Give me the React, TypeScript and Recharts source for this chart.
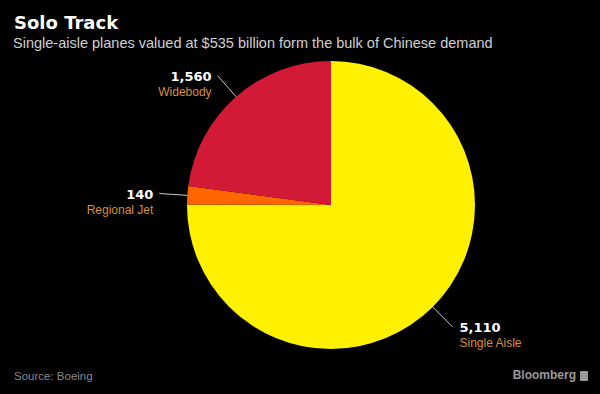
import React from "react";
import { PieChart, Pie, Cell } from "recharts";

const categories = ["Single Aisle", "Regional Jet", "Widebody"];
const values = [5110, 140, 1560];
const valueLabels = ["5,110", "140", "1,560"];
const colors = ["#fff100", "#ff6600", "#d21a36"];

const data = categories.map((name, i) => ({ name, value: values[i], label: valueLabels[i] }));

const RAD = Math.PI / 180;

const renderLabel = (props: any) => {
  const { cx, cy, midAngle, outerRadius, index } = props;
  const cos = Math.cos(-midAngle * RAD);
  const sin = Math.sin(-midAngle * RAD);
  const sx = cx + outerRadius * cos;
  const sy = cy + outerRadius * sin;
  const ex = cx + (outerRadius + 28) * cos;
  const ey = cy + (outerRadius + 28) * sin;
  const right = cos >= 0;
  const tx = right ? ex + 7 : ex - 6;
  const anchor = right ? "start" : "end";
  return (
    <g key={`lbl-${index}`}>
      <line x1={sx} y1={sy} x2={ex} y2={ey} stroke="#cccccc" strokeWidth={1} />
      <text x={tx} y={ey + 5} textAnchor={anchor} fill="#ffffff" fontSize={13} fontWeight="bold" fontFamily="'DejaVu Sans', sans-serif">
        {data[index].label}
      </text>
      <text x={tx} y={ey + 20} textAnchor={anchor} fill="#d98e36" fontSize={12} fontFamily="'Liberation Sans', sans-serif">
        {data[index].name}
      </text>
    </g>
  );
};

export default function App() {
  return (
    <div style={{ position: "fixed", left: 0, top: 0, width: 600, height: 394, background: "#000", overflow: "hidden" }}>
      <div style={{ position: "absolute", left: 14, top: 12, color: "#ffffff", fontFamily: "'DejaVu Sans', sans-serif", fontWeight: "bold", fontSize: 18, lineHeight: "22px" }}>
        Solo Track
      </div>
      <div style={{ position: "absolute", left: 13, top: 35, color: "#cfcfcf", fontFamily: "'Liberation Sans', sans-serif", fontSize: 14.5, lineHeight: "17px" }}>
        Single-aisle planes valued at $535 billion form the bulk of Chinese demand
      </div>
      <PieChart width={600} height={394} margin={{ top: 0, right: 0, bottom: 0, left: 0 }} style={{ position: "absolute", left: 0, top: 0 }}>
        <Pie
          data={data}
          dataKey="value"
          nameKey="name"
          cx={331}
          cy={205}
          outerRadius={144}
          innerRadius={0}
          startAngle={90}
          endAngle={-270}
          stroke="none"
          isAnimationActive={false}
          labelLine={false}
          label={renderLabel}
        >
          {data.map((d, i) => (
            <Cell key={d.name} fill={colors[i]} />
          ))}
        </Pie>
      </PieChart>
      <div style={{ position: "absolute", left: 14, top: 369, color: "#8a8a8a", fontFamily: "'Liberation Sans', sans-serif", fontSize: 11.5, lineHeight: "14px" }}>
        Source: Boeing
      </div>
      <div style={{ position: "absolute", right: 24, top: 368, color: "#9a9a9a", fontFamily: "'Liberation Sans', sans-serif", fontWeight: "bold", fontSize: 12, lineHeight: "15px" }}>
        Bloomberg
      </div>
      <div style={{ position: "absolute", left: 580, top: 371, width: 8, height: 10, background: "#9a9a9a", borderRadius: 1 }} />
    </div>
  );
}
